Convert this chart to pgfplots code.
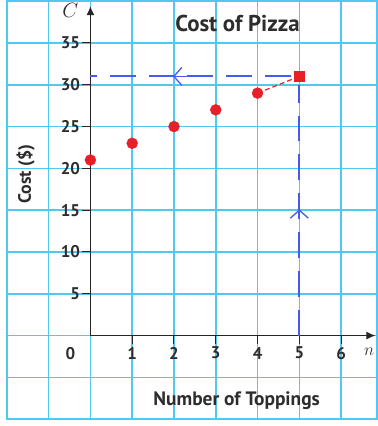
\documentclass[border=0pt]{standalone}
\usepackage{pgfplots}
\pgfplotsset{compat=1.18}
\usepackage{fontspec}
\setmainfont{PT Sans}[BoldFont={PT Sans Bold}]
\usetikzlibrary{arrows.meta,decorations.markings}
\definecolor{gridc}{RGB}{80,200,240}
\definecolor{ptred}{RGB}{232,30,40}
\definecolor{dashblue}{RGB}{70,90,235}
\definecolor{txt}{RGB}{45,45,45}
\begin{document}
\begin{tikzpicture}
\begin{axis}[
  scale only axis, width=372pt, height=420pt,
  xmin=-2, xmax=6.86, ymin=-10, ymax=40,
  xtick={-2,-1,...,6}, ytick={-10,-5,...,35},
  xticklabels={}, yticklabels={},
  major tick length=0pt,
  grid=major,
  major grid style={gridc, line width=1.5pt},
  axis line style={gridc, line width=1.5pt},
  clip=false,
]
% axes
\draw[black!85, line width=1.1pt, -{Latex[length=9pt,width=8pt]}] (axis cs:0,0) -- (axis cs:0,39.4);
\draw[black!85, line width=1.1pt, -{Latex[length=9pt,width=8pt]}] (axis cs:0,0) -- (axis cs:6.82,0);
\pgfplotsinvokeforeach{5,10,15,20,25,30,35}{
  \draw[black!85, line width=1pt] (axis cs:-0.2,#1) -- (axis cs:0,#1);
  \node[anchor=east, font=\bfseries\fontsize{17}{17}\selectfont, text=txt, inner sep=1pt] at (axis cs:-0.22,#1) {#1};
}
\pgfplotsinvokeforeach{1,2,3,4,5,6}{
  \draw[black!85, line width=1pt] (axis cs:#1,0) -- (axis cs:#1,-1);
  \node[font=\bfseries\fontsize{17}{17}\selectfont, text=txt] at (axis cs:#1,-2.1) {#1};
}
\node[font=\bfseries\fontsize{17}{17}\selectfont, text=txt] at (axis cs:-0.48,-2.1) {0};
\node[font=\fontsize{17}{17}\selectfont, text=txt] at (axis cs:6.67,-1.9) {$n$};
\node[font=\fontsize{21}{21}\selectfont, text=txt] at (axis cs:-0.48,38.9) {$C$};
\node[font=\bfseries\fontsize{23}{23}\selectfont, text=txt] at (axis cs:3.52,37.3) {Cost of Pizza};
\node[font=\bfseries\fontsize{19.5}{19.5}\selectfont, text=txt] at (axis cs:3.5,-7.8) {Number of Toppings};
\node[font=\bfseries\fontsize{18}{18}\selectfont, text=txt, rotate=90] at (axis cs:-1.55,19.3) {Cost (\$)};
% dashed guides
\addplot[dashblue, line width=2pt, dash pattern=on 26pt off 13pt]
  coordinates {(4.8,31) (0,31)};
\addplot[dashblue, line width=2pt, dash pattern=on 26pt off 13pt]
  coordinates {(5,0) (5,30)};
\addplot[dashblue, line width=1.3pt, -{Straight Barb[length=8pt,width=18pt]}, shorten >=-1pt]
  coordinates {(2.3,31) (2,31)};
\addplot[dashblue, line width=1.3pt, -{Straight Barb[length=8pt,width=18pt]}]
  coordinates {(5,14) (5,15.1)};
\addplot[ptred, line width=1.2pt, dash pattern=on 5pt off 3pt] coordinates {(4,29) (5,31)};
\addplot[only marks, mark=*, mark size=5.5pt, ptred] coordinates {(0,21) (1,23) (2,25) (3,27) (4,29)};
\addplot[only marks, mark=square*, mark size=4.8pt, ptred] coordinates {(5,31)};
\end{axis}
\end{tikzpicture}
\end{document}
